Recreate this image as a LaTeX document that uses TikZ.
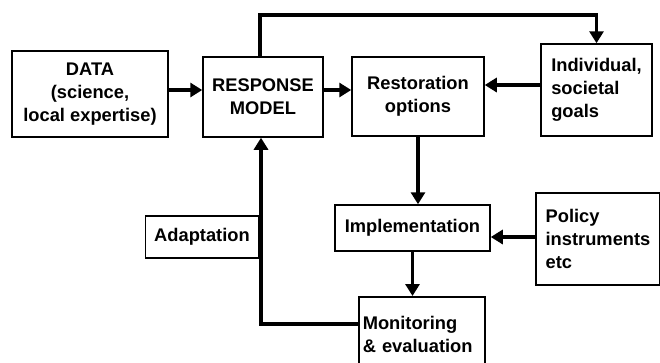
\documentclass[tikz,border=0pt]{standalone}
\usepackage{fontspec}
\setmainfont{Liberation Sans}
\usetikzlibrary{arrows.meta}
\tikzset{
  box/.style={draw, line width=1.5pt, inner sep=0pt, align=center,
    font=\bfseries\fontsize{18.3}{23}\selectfont},
  conn/.style={line width=3.6pt, -{Triangle[length=12pt,width=14pt]}},
  plain/.style={line width=3.6pt}
}
\begin{document}
\begin{tikzpicture}[x=1pt,y=-1pt]
	\useasboundingbox (0,0) rectangle (660,362);

	%caixas de cima
	\node[box, minimum width=156pt, minimum height=86pt] (data) at (90,94) {DATA\\(science,\\local expertise)};
	\node[box, minimum width=120pt, minimum height=80pt] (resp) at (263,97) {RESPONSE\\MODEL};
	\node[box, minimum width=132pt, minimum height=79pt] (rest) at (418,96.5) {Restoration\\options};
	\node[box, align=left, minimum width=111pt, minimum height=92pt] (goals) at (596.5,90) {Individual,\\societal\\goals};

	%caixas de baixo
	\node[box, minimum width=155pt, minimum height=46pt] (impl) at (412.5,228) {Implementation};
	\node[box, align=left, minimum width=124pt, minimum height=92pt] (pol) at (598,239) {Policy\\instruments\\etc};
	\node[box, minimum width=113pt, minimum height=42pt] (adapt) at (202,237) {Adaptation};
	\node[box, align=left, anchor=north west, text width=118pt, inner xsep=4pt,
	  minimum height=76pt] (mon) at (358,296) {Monitoring\\\& evaluation};

	%setas
	\draw[conn] ([yshift=4pt]data.east) -- ([yshift=4pt]data.east -| resp.west);
	\draw[conn] ([yshift=7pt]resp.east) -- ([yshift=7pt]resp.east -| rest.west);
	\draw[conn] ([yshift=5pt]goals.west) -- ([yshift=5pt]goals.west -| rest.east);
	\coordinate (top) at (0,15);
	\draw[conn] ([xshift=-3pt]resp.north) |- (top -| goals.north) -- (goals.north);
	\draw[conn] (rest.south) -- (rest.south |- impl.north);
	\draw[conn] ([yshift=2pt]pol.west) -- ([yshift=2pt]pol.west -| impl.east);
	\draw[conn] (impl.south) -- (impl.south |- mon.north);

	%retorno
	\coordinate (fb) at (0,324);
	\draw[conn] (mon.west |- fb) -| ([xshift=-2pt]resp.south);
\end{tikzpicture}
\end{document}
